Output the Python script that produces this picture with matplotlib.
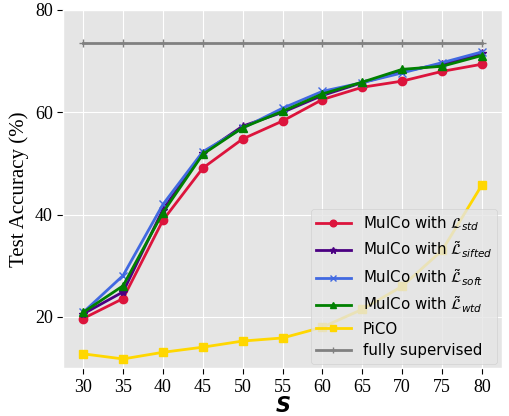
import matplotlib
matplotlib.use("Agg")
import matplotlib.pyplot as plt

plt.style.use("ggplot")

S = [30, 35, 40, 45, 50, 55, 60, 65, 70, 75, 80]
std = [19.7, 23.6, 38.9, 49.1, 54.8, 58.3, 62.5, 64.9, 66.1, 68.0, 69.4]
sifted = [20.6, 24.9, 41.0, 52.0, 57.3, 60.0, 63.3, 65.8, 68.0, 69.4, 71.5]
soft = [20.9, 28.1, 42.0, 52.3, 56.9, 60.8, 64.1, 65.8, 67.7, 69.7, 71.8]
wtd = [20.9, 26.1, 40.4, 51.8, 57.0, 60.2, 63.6, 65.9, 68.4, 69.0, 71.1]
pico = [12.8, 11.8, 13.1, 14.1, 15.3, 15.9, 18.0, 21.5, 26.0, 33.0, 45.8]
full = [73.6] * len(S)

fig = plt.figure(figsize=(5.10, 4.16), dpi=100)
fig.patch.set_facecolor("white")
ax = fig.add_axes([0.124, 0.115, 0.86, 0.861])

lw = 2
ax.plot(S, std, color="#DC143C", marker="o", ms=6, lw=lw, label=r"MulCo with $\mathcal{L}_{std}$")
ax.plot(S, sifted, color="#4B0082", marker="*", ms=6, lw=lw, label=r"MulCo with $\tilde{\mathcal{L}}_{sifted}$")
ax.plot(S, soft, color="#4169E1", marker="x", ms=6, lw=lw, label=r"MulCo with $\tilde{\mathcal{L}}_{soft}$")
ax.plot(S, wtd, color="#008000", marker="^", ms=6, lw=lw, label=r"MulCo with $\tilde{\mathcal{L}}_{wtd}$")
ax.plot(S, pico, color="#FFD700", marker="s", ms=6, lw=lw, label="PiCO")
ax.plot(S, full, color="#808080", marker="+", ms=6, lw=lw, label="fully supervised")

ax.set_ylim(10, 80)
ax.set_xticks(S)
ax.set_yticks([20, 40, 60, 80])
ax.tick_params(colors="black", labelsize=13, length=4)
for lab in ax.get_xticklabels() + ax.get_yticklabels():
    lab.set_fontfamily("Liberation Serif")
    lab.set_color("black")

ax.set_ylabel("Test Accuracy (%)", fontsize=15, family="Liberation Serif", color="black")
ax.set_xlabel(r"$\boldsymbol{S}$", fontsize=15, color="black", labelpad=0)

leg = ax.legend(loc="lower right", fontsize=10.8, framealpha=0.8, facecolor="#E5E5E5",
                borderaxespad=0.3, handlelength=2.3, labelspacing=0.45, markerscale=0.8,
                borderpad=0.35)
for t in leg.get_texts():
    t.set_color("black")

fig.savefig("out.png", dpi=100)
